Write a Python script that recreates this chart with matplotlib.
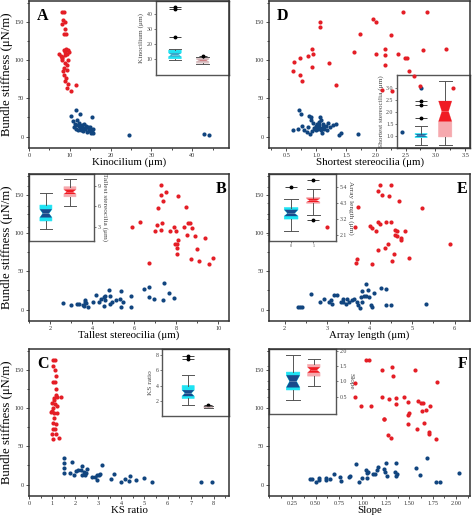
import matplotlib.pyplot as plt
from matplotlib.ticker import AutoMinorLocator, FormatStrFormatter

plt.rcParams['font.family'] = ['Liberation Serif', 'DejaVu Serif']

W, H = 473, 517
RED = '#e41e26'
BLUE = '#11457f'
CYAN = '#1ee3f3'
DKBLUE = '#1a4a8c'
PINK = '#f6a9ae'
DKRED = '#f01c24'

# ---- scatter data (bundle stiffness, uN/m) ----
a_red_x = [8.0, 8.6, 8.3, 8.8, 8.0, 8.9, 8.5, 9.1, 7.4, 7.8, 8.2, 8.5, 9.0, 9.5, 8.7, 9.3, 8.0, 8.9, 9.3,
           8.6, 8.3, 9.3, 8.5, 8.9, 9.5, 9.3, 10.4, 11.6, 9.1, 8.0, 9.6, 8.8, 9.9]
a_red_y = [162, 162, 152, 149, 147, 140, 134, 134, 108, 105, 103, 113, 114, 113, 110, 108, 100, 96, 94,
           89, 86, 87, 80, 72, 68, 63, 59, 67, 77, 104, 100, 106, 110]
a_blue_x = [10.2, 11.5, 12.6, 15.5, 10.8, 11.2, 11.8, 12.3, 13.0, 13.5, 14.0, 14.5, 13.8, 12.5, 11.0, 11.6,
            12.0, 12.8, 13.3, 14.2, 14.8, 15.2, 15.6, 15.8, 15.0, 13.6, 12.2, 14.6, 11.4, 13.1, 14.9, 15.4,
            24.5, 42.8, 44.0]
a_blue_y = [27, 35, 29, 26, 20, 17, 22, 18, 15, 16, 14, 12, 10, 12, 13, 10,
            9, 8, 7, 6, 8, 5, 4, 10, 12, 11, 14, 10, 15, 11, 7, 9,
            2, 3, 2]

b_red_x = [7.28, 7.50, 7.27, 7.38, 7.11, 8.09, 8.48, 5.88, 6.29, 6.70, 7.10, 7.33, 7.27, 7.00, 7.68, 7.87,
           7.99, 7.93, 8.01, 8.04, 8.04, 8.07, 8.37, 8.51, 8.56, 8.67, 8.73, 8.70, 8.90, 8.97, 9.08, 9.35,
           9.54, 9.74]
b_red_y = [162, 154, 150, 142, 132, 148, 134, 108, 114, 61, 111, 113, 104, 103, 103, 108,
           103, 85, 86, 80, 72, 91, 108, 97, 113, 113, 107, 66, 96, 79, 64, 93,
           59, 67]
b_blue_x = [2.63, 3.00, 3.30, 3.37, 3.58, 3.60, 3.66, 3.66, 3.70, 3.81, 4.05, 4.16, 4.33, 4.43, 4.54, 4.57,
            4.59, 4.62, 4.82, 4.84, 4.86, 4.93, 5.14, 5.34, 5.38, 5.47, 5.38, 5.83, 5.85, 6.45, 6.68, 6.68,
            6.95, 7.41, 7.36, 7.65, 7.91]
b_blue_y = [9, 6, 7, 7, 6, 5, 13, 10, 8, 3, 10, 19, 10, 14, 16, 4,
            18, 13, 26, 18, 7, 10, 13, 14, 24, 10, 3, 18, 3, 27, 29, 17,
            14, 34, 13, 21, 15]

c_red_x = [1.02, 1.14, 1.05, 1.13, 1.17, 1.05, 1.13, 1.38, 1.19, 1.07, 1.22, 1.10, 0.99, 1.14, 1.20, 0.98,
           1.10, 1.07, 1.05, 1.15, 1.02, 1.12, 0.98, 1.17, 1.05, 1.32, 0.95, 1.22, 1.02, 1.15]
c_red_y = [162, 162, 155, 150, 142, 134, 134, 114, 125, 113, 114, 110, 106, 105, 102, 96,
           94, 87, 81, 79, 72, 73, 66, 66, 60, 61, 95, 93, 100, 117]
c_blue_x = [1.52, 1.52, 1.52, 1.52, 1.85, 1.76, 1.95, 2.02, 2.14, 2.24, 2.31, 2.28, 2.38, 2.42, 2.53, 2.48,
            2.74, 2.86, 2.96, 3.03, 2.96, 3.06, 3.17, 3.54, 3.68, 3.97, 4.16, 4.36, 4.33, 4.62, 4.99,
            5.31, 7.43, 7.91]
c_blue_y = [34, 28, 22, 15, 29, 15, 13, 18, 19, 19, 24, 12, 16, 12, 20, 15,
            10, 10, 13, 12, 6, 14, 26, 7, 14, 3, 7, 11, 5, 6, 9,
            3, 3, 3]

d_red_x = [0.63, 0.62, 0.73, 0.73, 0.77, 0.87, 0.93, 0.95, 0.93, 1.07, 1.07, 1.22, 1.34, 1.73, 1.64, 1.96,
           2.01, 2.00, 2.15, 2.16, 2.15, 2.25, 2.38, 2.45, 2.49, 2.52, 2.55, 2.64, 2.74, 2.86, 2.80, 3.18,
           2.11, 2.27, 3.30]
d_red_y = [97, 85, 103, 81, 72, 105, 114, 108, 91, 149, 143, 96, 67, 134, 111, 154,
           150, 108, 107, 114, 94, 132, 108, 162, 103, 102, 86, 79, 66, 162, 113, 114,
           61, 60, 64]
d_blue_x = [0.62, 0.69, 0.72, 0.75, 0.77, 0.80, 0.84, 0.86, 0.88, 0.90, 0.91, 0.93, 0.95, 0.96, 0.98, 0.99,
            1.00, 1.02, 1.03, 1.04, 1.05, 1.06, 1.07, 1.08, 1.09, 1.10, 1.11, 1.12, 1.14, 1.16, 1.18, 1.20,
            1.24, 1.28, 1.33, 1.38, 1.41, 1.71, 0.92, 1.01]
d_blue_y = [8, 10, 34, 29, 14, 9, 6, 13, 27, 3, 22, 7, 18, 11, 10, 14,
            9, 12, 10, 19, 15, 11, 26, 8, 21, 4, 13, 17, 10, 14, 9, 18,
            12, 15, 17, 2, 5, 3, 25, 17]

e_red_x = [4.24, 4.50, 4.19, 4.30, 4.46, 4.70, 5.22, 3.73, 2.99, 3.66, 4.00, 4.05, 4.15, 4.20, 4.24, 4.39,
           4.51, 4.59, 4.64, 4.82, 4.59, 4.65, 4.74, 4.74, 4.43, 4.35, 4.20, 4.57, 4.93, 4.53, 3.70, 3.67,
           4.05, 5.89]
e_red_y = [162, 162, 155, 150, 148, 142, 132, 134, 108, 108, 109, 107, 103, 114, 112, 114,
           114, 104, 103, 103, 97, 96, 93, 91, 86, 81, 78, 72, 67, 64, 66, 61,
           59, 85]
e_blue_x = [2.31, 2.36, 2.40, 2.63, 2.84, 2.93, 3.04, 3.08, 3.12, 3.17, 3.22, 3.32, 3.36, 3.38, 3.44, 3.46,
            3.51, 3.59, 3.63, 3.69, 3.73, 3.76, 3.80, 3.81, 3.87, 3.91, 3.92, 3.95, 3.98, 4.02, 4.06, 4.09,
            4.27, 4.39, 4.38, 4.50, 5.32, 3.83]
e_blue_y = [3, 3, 3, 20, 10, 14, 10, 13, 7, 19, 19, 10, 14, 10, 7, 14,
            10, 13, 14, 10, 6, 2, 16, 24, 18, 18, 33, 26, 16, 6, 3, 21,
            28, 27, 6, 6, 7, 10]

f_red_x = [1.04, 1.07, 1.32, 1.21, 1.56, 1.33, 0.92, 1.80, 0.92, 1.21, 1.28, 1.36, 1.44, 1.49, 1.59, 1.63,
           1.65, 1.36, 0.98, 1.09, 1.72, 1.68, 1.64, 1.50, 1.49, 1.23, 1.23, 1.66, 1.49, 1.58, 1.71, 1.71,
           1.27, 1.31, 1.79]
f_red_y = [162, 162, 154, 150, 149, 142, 132, 134, 114, 114, 112, 113, 114, 108, 109, 107,
           107, 105, 103, 103, 103, 97, 96, 93, 91, 86, 85, 81, 79, 72, 68, 66,
           65, 61, 59]
f_blue_x = [0.44, 0.46, 0.50, 0.54, 0.54, 0.61, 0.61, 0.65, 0.69, 0.76, 0.77, 0.86, 0.87, 0.93, 0.96, 0.99,
            1.04, 1.05, 1.05, 1.06, 1.11, 1.13, 1.16, 1.17, 1.23, 1.25, 1.24, 1.26, 1.36, 1.35, 1.36, 1.37,
            1.57, 1.61, 1.69, 1.79, 1.83, 2.03]
f_blue_y = [7, 7, 3, 8, 6, 6, 8, 7, 14, 10, 5, 10, 11, 27, 3, 9,
            19, 8, 15, 17, 14, 14, 19, 23, 20, 28, 17, 11, 28, 16, 11, 14,
            22, 12, 34, 3, 3, 15]

# ---- inset box stats: [whislo, q1, cilo, med, cihi, q3, whishi] ----
a_box_blue = [9.8, 10.4, 11.8, 13.0, 14.2, 16.1, 16.5]
a_box_red = [6.8, 7.5, 8.6, 9.3, 10.0, 11.2, 11.6]
a_out_blue = [25.0, 43.3, 44.6]
a_out_red = [12.0]

b_box_blue = [2.7, 3.9, 4.4, 5.0, 5.6, 6.2, 8.0]
b_box_red = [6.1, 7.4, 7.8, 8.1, 8.45, 8.85, 9.97]

c_box_blue = [1.5, 2.3, 2.6, 3.0, 3.4, 4.0, 5.35]
c_box_red = [1.0, 1.05, 1.1, 1.17, 1.24, 1.3, 1.32]
c_out_blue = [7.5, 7.9]
c_out_red = [1.4]

d_box_blue = [0.63, 0.93, 0.97, 1.02, 1.07, 1.1, 1.41]
d_box_red = [0.63, 0.96, 1.6, 2.02, 2.45, 2.45, 3.28]
d_out_blue = [1.75, 2.3, 2.45]
d_dot_blue_x = [1.0, 0.2]
d_dot_blue_y = [3.0, 1.15]

e_box_blue = [2.4, 3.2, 3.4, 3.6, 3.85, 4.0, 4.57]
e_box_red = [3.5, 4.3, 4.38, 4.5, 4.62, 4.7, 5.28]
e_out_blue = [5.4]
e_out_red = [5.95, 3.1]

f_box_blue = [0.39, 0.72, 0.8, 1.0, 1.2, 1.3, 1.86]
f_box_red = [0.86, 1.17, 1.28, 1.37, 1.46, 1.55, 1.73]

fig = plt.figure(figsize=(W / 100, H / 100), dpi=100)


def px_rect(left, right, top, bottom):
    return [left / W, 1 - bottom / H, (right - left) / W, (bottom - top) / H]


def main_panel(rect, red_x, red_y, blue_x, blue_y, xlim, xticks, xlabel, letter, letter_right, ylabel, fmt=None):
    ax = fig.add_axes(px_rect(*rect))
    ax.set_zorder(2)
    ax.patch.set_visible(False)
    ax.scatter(red_x, red_y, s=9, color=RED, lw=0, zorder=3)
    ax.scatter(blue_x, blue_y, s=9, color=BLUE, lw=0, zorder=3)
    ax.set_xlim(*xlim)
    ax.set_ylim(-15, 177)
    ax.set_xticks(xticks)
    ax.set_yticks([0, 50, 100, 150])
    if fmt:
        ax.xaxis.set_major_formatter(FormatStrFormatter(fmt))
    ax.xaxis.set_minor_locator(AutoMinorLocator(2))
    ax.yaxis.set_minor_locator(AutoMinorLocator(2))
    ax.tick_params(which='major', labelsize=4.5, length=2, width=0.6, pad=1.5, colors='#333333')
    ax.tick_params(which='minor', length=1.2, width=0.5)
    for sp in ax.spines.values():
        sp.set_linewidth(1.1)
        sp.set_color('#333333')
    ax.set_xlabel(xlabel, fontsize=7.8)
    ax.xaxis.set_label_coords(0.5, -0.065)
    ax.xaxis.label.set_va('top')
    if ylabel:
        ax.set_ylabel('Bundle stiffness (μN/m)', fontsize=9.2)
        ax.yaxis.set_label_coords(-0.078, 0.5)
    if letter_right:
        ax.text(0.985, 0.955, letter, transform=ax.transAxes, ha='right', va='top',
                fontsize=11.5, fontweight='bold')
    else:
        ax.text(0.04, 0.955, letter, transform=ax.transAxes, ha='left', va='top',
                fontsize=11.5, fontweight='bold')
    return ax


def draw_box(ins, pos, s, light, dark, width, mcolor='white'):
    st = dict(whislo=s[0], q1=s[1], cilo=s[2], med=s[3], cihi=s[4], q3=s[5], whishi=s[6], fliers=[])
    res = ins.bxp([st], positions=[pos], widths=width, capwidths=width, shownotches=True,
                  patch_artist=True, showfliers=False, manage_ticks=False,
                  boxprops=dict(facecolor=light, edgecolor=light, lw=0.4),
                  whiskerprops=dict(color='#555555', lw=0.7),
                  capprops=dict(color='#555555', lw=0.7),
                  medianprops=dict(color=mcolor, lw=0.4, ls=(0, (1, 1))))
    l, r = pos - width / 2, pos + width / 2
    ins.fill([l, r, pos + width / 4, r, l, pos - width / 4],
             [s[2], s[2], s[3], s[4], s[4], s[3]], color=dark, lw=0, zorder=2.5)
    res['medians'][0].set_zorder(3)
    return res


def draw_outliers(ins, pos, vals, width):
    ins.plot([pos] * len(vals), vals, ls='none', marker='_', ms=width, mew=0.6, color='#222222')
    ins.plot([pos] * len(vals), vals, ls='none', marker='o', ms=1.8, color='black')


def inset(rect, xlim, ylim, yticks, ylabel, side, fmt=None):
    ins = fig.add_axes(px_rect(*rect))
    ins.set_zorder(1)
    ins.set_facecolor('white')
    ins.set_xlim(*xlim)
    ins.set_ylim(*ylim)
    ins.set_xticks([])
    ins.set_yticks(yticks)
    if fmt:
        ins.yaxis.set_major_formatter(FormatStrFormatter(fmt))
    ins.tick_params(labelsize=4.2, length=1.5, width=0.5, pad=1, colors='#444444')
    for sp in ins.spines.values():
        sp.set_linewidth(1.0)
        sp.set_color('#555555')
    if side == 'right':
        ins.yaxis.tick_right()
        ins.tick_params(left=True, right=True, labelleft=False, labelright=True)
        ins.yaxis.set_label_position('right')
        ins.set_ylabel(ylabel, fontsize=5.2, rotation=270, labelpad=5, color='#444444')
    else:
        ins.set_ylabel(ylabel, fontsize=5.2, labelpad=1.5, color='#444444')
    return ins


# Panel A
main_panel((29, 229, 1, 148), a_red_x, a_red_y, a_blue_x, a_blue_y, (0, 49), [0, 10, 20, 30, 40],
           'Kinocilium (μm)', 'A', False, True)
ins = inset((156, 229, 1, 75), (0.316, 2.95), (-0.3, 48.4), [10, 20, 30, 40], 'Kinocilium (μm)', 'left')
draw_box(ins, 1, a_box_blue, CYAN, '#3aa6c8', 0.45)
draw_box(ins, 2, a_box_red, '#dcc4c6', '#c9a2a6', 0.45, mcolor=RED)
draw_outliers(ins, 1, a_out_blue, 9)
draw_outliers(ins, 2, a_out_red, 6)

# Panel D
main_panel((269, 470, 1, 148), d_red_x, d_red_y, d_blue_x, d_blue_y, (0.21, 3.58),
           [0.5, 1.0, 1.5, 2.0, 2.5, 3.0, 3.5], 'Shortest stereocilia (μm)', 'D', False, False, fmt='%.1f')
ins = inset((397, 470, 75, 148), (0.0, 3.03), (0.5, 3.53), [1.0, 1.5, 2.0, 2.5, 3.0],
            'Shortest stereocilia (μm)', 'left', fmt='%.1f')
draw_box(ins, 1, d_box_blue, CYAN, DKBLUE, 0.5)
draw_box(ins, 2, d_box_red, PINK, DKRED, 0.55)
draw_outliers(ins, 1, d_out_blue, 9)
ins.scatter(d_dot_blue_x, d_dot_blue_y, s=9, color=BLUE, lw=0, zorder=4)

# Panel B
main_panel((29, 229, 174, 321), b_red_x, b_red_y, b_blue_x, b_blue_y, (1.0, 10.5), [2, 4, 6, 8, 10],
           'Tallest stereocilia (μm)', 'B', True, True)
ins = inset((29, 94, 174, 241), (0.297, 3.0), (1.0, 10.7), [3, 6, 9], 'Tallest stereocilia (μm)', 'right')
draw_box(ins, 1, b_box_blue, CYAN, DKBLUE, 0.5)
draw_box(ins, 2, b_box_red, PINK, DKRED, 0.5)

# Panel E
main_panel((269, 470, 174, 321), e_red_x, e_red_y, e_blue_x, e_blue_y, (1.63, 6.36), [2, 3, 4, 5, 6],
           'Array length (μm)', 'E', True, False)
ins = inset((269, 336, 174, 241), (-1.0, 2.03), (1.67, 6.34), [2.1, 3.2, 4.3, 5.4], 'Array length (μm)',
            'right', fmt='%.1f')
ins.set_xticks([0, 1])
ins.tick_params(axis='x', labelsize=3, length=1.2)
draw_box(ins, 0, e_box_blue, CYAN, DKBLUE, 0.62)
draw_box(ins, 1, e_box_red, PINK, DKRED, 0.6)
draw_outliers(ins, 0, e_out_blue, 8)
draw_outliers(ins, 1, e_out_red, 8)

# Panel C
main_panel((29, 229, 349, 496), c_red_x, c_red_y, c_blue_x, c_blue_y, (0, 8.66), list(range(9)),
           'KS ratio', 'C', False, True)
ins = inset((162, 229, 349, 416), (-0.3, 3.03), (0, 8.8), [2, 4, 6, 8], 'KS ratio', 'left')
draw_box(ins, 1, c_box_blue, CYAN, DKBLUE, 0.6)
draw_box(ins, 2, c_box_red, '#d9b8bb', '#a88a8e', 0.45)
draw_outliers(ins, 1, c_out_blue, 8)
draw_outliers(ins, 2, c_out_red, 6)

# Panel F
main_panel((269, 470, 349, 496), f_red_x, f_red_y, f_blue_x, f_blue_y, (0, 2.15),
           [0.25, 0.5, 0.75, 1.0, 1.25, 1.5, 1.75, 2.0], 'Slope', 'F', True, False, fmt='%.2f')
ins = inset((269, 336, 349, 414), (-0.16, 3.07), (-0.06, 2.05), [0.5, 1.0, 1.5, 2.0], 'Slope', 'right',
            fmt='%.1f')
draw_box(ins, 1, f_box_blue, CYAN, DKBLUE, 0.65)
draw_box(ins, 2, f_box_red, PINK, DKRED, 0.6)

fig.savefig('out.png', dpi=100)
